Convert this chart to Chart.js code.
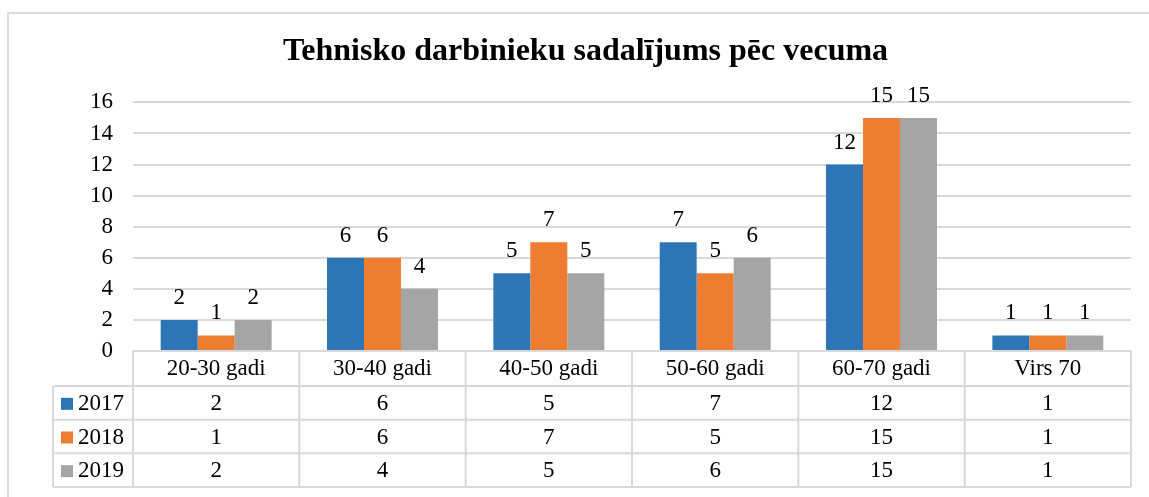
<!DOCTYPE html>
<html>
<head>
<meta charset="utf-8">
<script src="https://cdn.jsdelivr.net/npm/chart.js@4"></script>
<style>
    html, body { margin: 0; padding: 0; background: #fff; }
    #frame { position: absolute; left: 7px; top: 12px; width: 1160px; height: 500px; border: 2px solid #dcdcdc; }
    #wrap { position: absolute; left: 0; top: 0; width: 1149px; height: 497px; }
</style>
</head>
<body>
<div id="frame"></div>
<div id="wrap"><canvas id="chart"></canvas></div>
<script>
// Dati
const categories = ['20-30 gadi', '30-40 gadi', '40-50 gadi', '50-60 gadi', '60-70 gadi', 'Virs 70'];
const years = ['2017', '2018', '2019'];
const values2017 = [2, 6, 5, 7, 12, 1];
const values2018 = [1, 6, 7, 5, 15, 1];
const values2019 = [2, 4, 5, 6, 15, 1];
const yTickMax = 16;
const yTickStep = 2;

const colors = ['#2E75B6', '#ED7D31', '#A5A5A5'];
const FONT = "'Liberation Serif', 'Times New Roman', serif";
const FONT_SIZE = 23;
const GRID = '#d9d9d9';

// value labels above bars
const valueLabels = {
    id: 'valueLabels',
    afterDatasetsDraw(chart) {
        const ctx = chart.ctx;
        ctx.save();
        ctx.font = FONT_SIZE + 'px ' + FONT;
        ctx.fillStyle = '#000';
        ctx.textAlign = 'center';
        ctx.textBaseline = 'alphabetic';
        chart.data.datasets.forEach(function(ds, i) {
            chart.getDatasetMeta(i).data.forEach(function(bar, j) {
                ctx.fillText(String(ds.data[j]), bar.x, bar.y - 16);
            });
        });
        ctx.restore();
    }
};

// data table under the axis
const dataTable = {
    id: 'dataTable',
    afterDraw(chart) {
        const ctx = chart.ctx;
        const area = chart.chartArea;
        const x = chart.scales.x;
        const headTop = area.bottom;
        const headBottom = x.bottom;
        const rowH = (chart.height - headBottom - 10) / years.length;
        const legendLeft = 53;
        const tableBottom = headBottom + rowH * years.length;
        const colW = (area.right - area.left) / categories.length;

        ctx.save();
        ctx.strokeStyle = GRID;
        ctx.lineWidth = 2;
        ctx.beginPath();
        ctx.moveTo(area.left, headTop);
        ctx.lineTo(area.right, headTop);
        for (let r = 0; r <= years.length; r++) {
            const y = headBottom + r * rowH;
            ctx.moveTo(legendLeft, y);
            ctx.lineTo(area.right, y);
        }
        for (let c = 0; c <= categories.length; c++) {
            const cx = area.left + c * colW;
            ctx.moveTo(cx, headTop);
            ctx.lineTo(cx, tableBottom);
        }
        ctx.moveTo(legendLeft, headBottom);
        ctx.lineTo(legendLeft, tableBottom);
        ctx.stroke();

        ctx.font = FONT_SIZE + 'px ' + FONT;
        ctx.fillStyle = '#000';
        ctx.textBaseline = 'middle';
        chart.data.datasets.forEach(function(ds, r) {
            const cy = headBottom + r * rowH + rowH / 2 + 1;
            ctx.fillStyle = ds.backgroundColor;
            ctx.fillRect(legendLeft + 8, cy - 6, 12, 12);
            ctx.fillStyle = '#000';
            ctx.textAlign = 'left';
            ctx.fillText(ds.label, legendLeft + 25, cy);
            ctx.textAlign = 'center';
            ds.data.forEach(function(v, j) {
                ctx.fillText(String(v), x.getPixelForValue(j), cy);
            });
        });
        ctx.restore();
    }
};

const ctx = document.getElementById('chart').getContext('2d');
new Chart(ctx, {
    type: 'bar',
    data: {
        labels: categories,
        datasets: [
            { label: years[0], data: values2017, backgroundColor: colors[0] },
            { label: years[1], data: values2018, backgroundColor: colors[1] },
            { label: years[2], data: values2019, backgroundColor: colors[2] }
        ]
    },
    options: {
        responsive: true,
        maintainAspectRatio: false,
        animation: false,
        categoryPercentage: 0.667,
        barPercentage: 1.0,
        layout: { padding: { left: 40, right: 18, top: 10, bottom: 111 } },
        plugins: {
            legend: { display: false },
            tooltip: { enabled: false },
            title: {
                display: true,
                text: 'Tehnisko darbinieku sadalījums pēc vecuma',
                color: '#000',
                font: { family: FONT, size: 32, weight: 'bold' },
                padding: { top: 23, bottom: 31 }
            }
        },
        scales: {
            x: {
                grid: { display: false, drawTicks: false },
                border: { display: false },
                ticks: { color: '#000', font: { family: FONT, size: FONT_SIZE }, padding: 4, maxRotation: 0 },
                afterFit: function(scale) { scale.height = 35; }
            },
            y: {
                min: 0,
                max: yTickMax,
                grid: { color: GRID, lineWidth: 2, drawTicks: false },
                border: { display: false },
                ticks: { stepSize: yTickStep, color: '#000', font: { family: FONT, size: FONT_SIZE }, padding: 20 },
                afterFit: function(scale) { scale.width = 93; }
            }
        }
    },
    plugins: [valueLabels, dataTable]
});

console.log('chart ok');
</script>
</body>
</html>
